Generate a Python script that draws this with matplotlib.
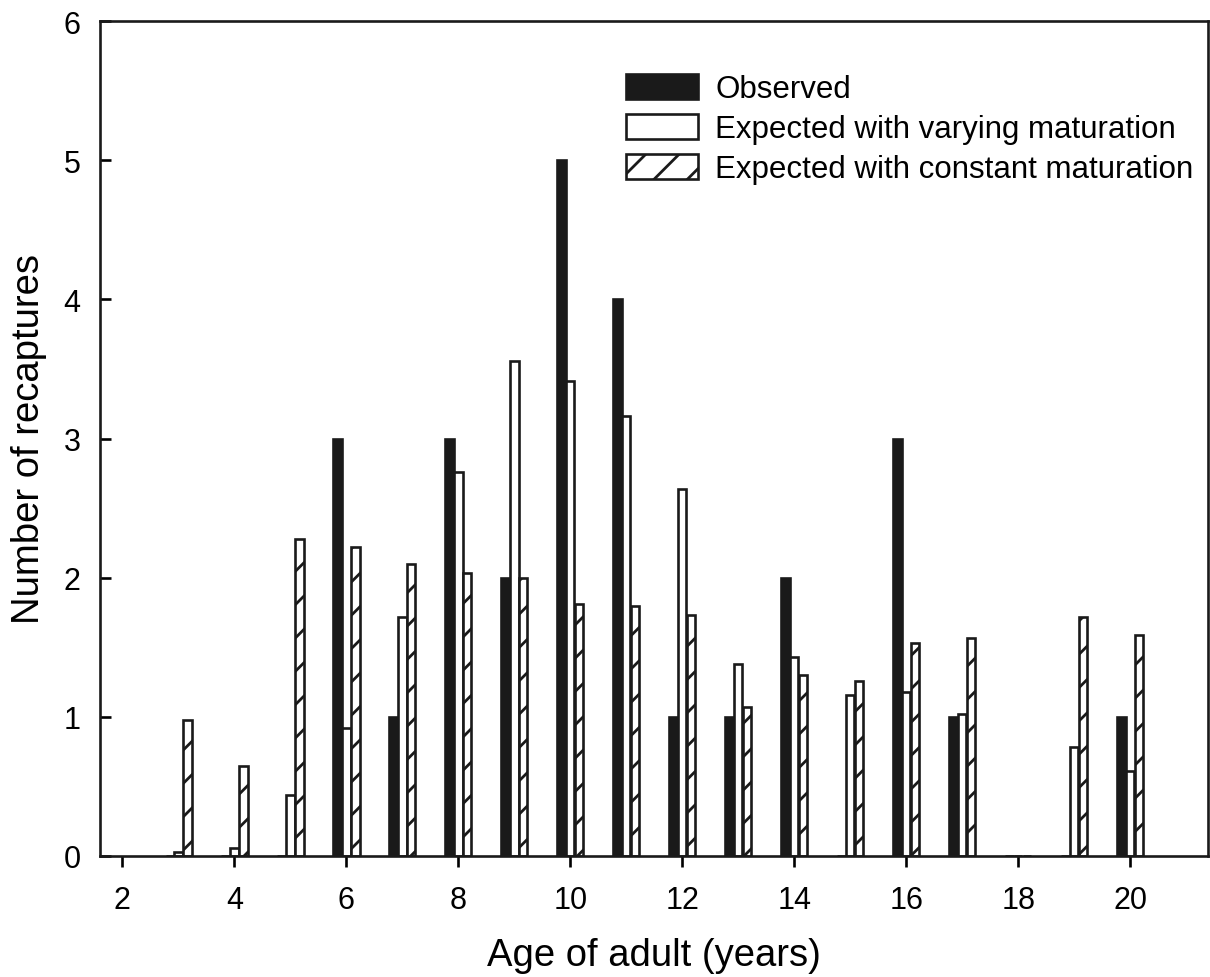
import numpy as np
import matplotlib
matplotlib.use("Agg")
import matplotlib.pyplot as plt

plt.rcParams['font.family'] = ['Liberation Sans', 'DejaVu Sans']
plt.rcParams['hatch.linewidth'] = 2.0

# recaptures by adult age
ages = [3, 4, 5, 6, 7, 8, 9, 10, 11, 12, 13, 14, 15, 16, 17, 18, 19, 20]
observed = [0, 0, 0, 3, 1, 3, 2, 5, 4, 1, 1, 2, 0, 3, 1, 0, 0, 1]
exp_varying = [0.03, 0.06, 0.44, 0.92, 1.72, 2.76, 3.56, 3.41, 3.16, 2.64,
               1.38, 1.43, 1.16, 1.18, 1.02, 0, 0.78, 0.61]
exp_constant = [0.98, 0.65, 2.28, 2.22, 2.10, 2.03, 2.00, 1.81, 1.80, 1.73,
                1.07, 1.30, 1.26, 1.53, 1.57, 0, 1.72, 1.59]

labels = ['Observed', 'Expected with varying maturation',
          'Expected with constant maturation']

x = np.array(ages, dtype=float)
w = 0.15
lw = 1.9

fig = plt.figure(figsize=(12.1, 9.78), dpi=100)
ax = fig.add_axes([100/1210, 1 - 857/978, 1108/1210, 835/978])

ax.bar(x - 0.155, observed, w, color='#1a1a1a', edgecolor='#1a1a1a',
       linewidth=lw, label=labels[0])
ax.bar(x, exp_varying, w, color='white', edgecolor='#1a1a1a',
       linewidth=lw, label=labels[1])
ax.bar(x + 0.16, exp_constant, w, color='white', edgecolor='#1a1a1a',
       linewidth=lw, hatch='/', label=labels[2])

ax.set_xlim(1.6, 21.39)
ax.set_ylim(0, 6)
ax.set_xticks(range(2, 21, 2))
ax.set_yticks(range(0, 7))
ax.tick_params(axis='x', direction='out', length=8, width=lw, labelsize=22, pad=13)
ax.tick_params(axis='y', direction='in', length=8, width=lw, labelsize=22, pad=14)
for s in ax.spines.values():
    s.set_linewidth(lw)
    s.set_color('#1a1a1a')

ax.set_xlabel('Age of adult (years)', fontsize=27.5, labelpad=16)
ax.set_ylabel('Number of recaptures', fontsize=27.5, labelpad=12)

ax.legend(loc='upper left', bbox_to_anchor=(0.475, 0.937), frameon=False,
          fontsize=22.5, handlelength=2.3, handleheight=0.85, handletextpad=0.55,
          labelspacing=0.32, borderpad=0, borderaxespad=0)

fig.savefig('out.png', dpi=100)
